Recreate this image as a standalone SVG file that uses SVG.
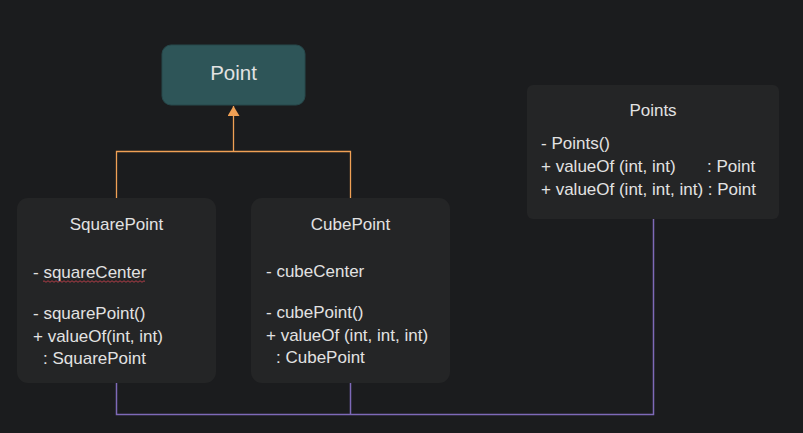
<svg xmlns="http://www.w3.org/2000/svg" width="803" height="433" viewBox="0 0 803 433">
<defs>
<style>
.bg{fill:#1b1c1e}
.box{fill:#242526}
.t{font-family:"Liberation Sans",Arial,sans-serif;font-size:17px;fill:#e2e2e2}
.c{text-anchor:middle}
.inh{stroke:#f0a055;stroke-width:1.3;fill:none}
.dep{stroke:#7e69b8;stroke-width:1.5;fill:none}
</style>
<marker id="tri" viewBox="0 0 10 12" refX="10" refY="6" markerWidth="10" markerHeight="12" markerUnits="userSpaceOnUse" orient="auto">
<path d="M0,0 L10,6 L0,12 Z" fill="#f0a055"/>
</marker>
</defs>
<rect class="bg" x="0" y="0" width="803" height="433"/>
<g id="connectors">
<path class="inh" d="M116.5,198 V151.5 H350.5 V198"/>
<path class="inh" d="M233.5,151.5 V106" marker-end="url(#tri)"/>
<path class="dep" d="M116.5,383 V414.5 H653.5 V218"/>
<path class="dep" d="M350.5,383 V414.5"/>
</g>
<g id="Point">
<rect x="162" y="45" width="143" height="60" rx="9" fill="#2e5558" stroke="#27484b" stroke-width="1"/>
<text class="t c" x="233.5" y="80" style="font-size:20.5px">Point</text>
</g>
<g id="SquarePoint">
<rect class="box" x="17" y="198" width="199" height="185" rx="11"/>
<text class="t c" x="116.5" y="230">SquarePoint</text>
<text class="t" x="33" y="278">- squareCenter</text>
<path d="M43,281.5 q1,-1.5 2,0 t2,0 t2,0 t2,0 t2,0 t2,0 t2,0 t2,0 t2,0 t2,0 t2,0 t2,0 t2,0 t2,0 t2,0 t2,0 t2,0 t2,0 t2,0 t2,0 t2,0 t2,0 t2,0 t2,0 t2,0 t2,0 t2,0 t2,0 t2,0 t2,0 t2,0 t2,0 t2,0 t2,0 t2,0 t2,0 t2,0 t2,0 t2,0 t2,0 t2,0 t2,0 t2,0 t2,0 t2,0 t2,0 t2,0 t2,0 t2,0 t2,0 t2,0" fill="none" stroke="#c0404a" stroke-width="0.9"/>
<text class="t" x="33" y="319">- squarePoint()</text>
<text class="t" x="33" y="342">+ valueOf(int, int)</text>
<text class="t" x="43" y="364">: SquarePoint</text>
</g>
<g id="CubePoint">
<rect class="box" x="251" y="198" width="199" height="185" rx="11"/>
<text class="t c" x="350.5" y="230">CubePoint</text>
<text class="t" x="266" y="277">- cubeCenter</text>
<text class="t" x="266" y="318">- cubePoint()</text>
<text class="t" x="266" y="341">+ valueOf (int, int, int)</text>
<text class="t" x="276" y="363">: CubePoint</text>
</g>
<g id="Points">
<rect class="box" x="527" y="85" width="252" height="134" rx="6"/>
<text class="t c" x="653" y="116">Points</text>
<text class="t" x="541" y="149">- Points()</text>
<text class="t" x="541" y="172">+ valueOf (int, int)</text>
<text class="t" x="707" y="172">: Point</text>
<text class="t" x="541" y="195">+ valueOf (int, int, int) : Point</text>
</g>
</svg>
